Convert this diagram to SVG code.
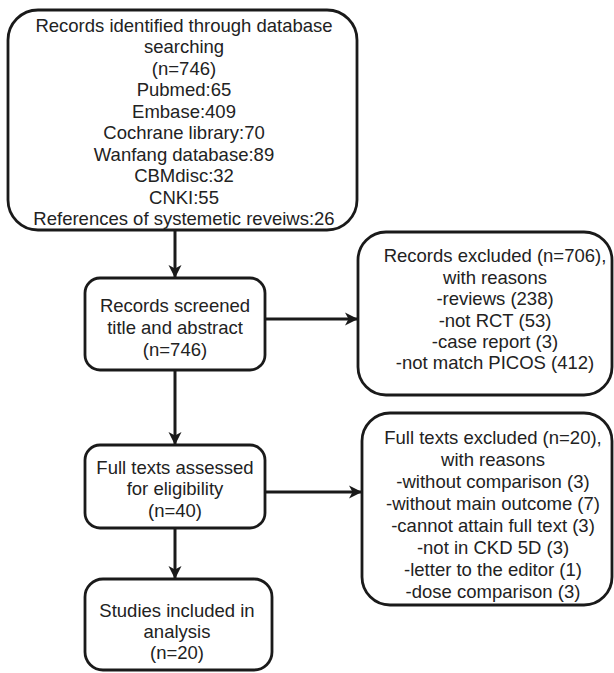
<svg xmlns="http://www.w3.org/2000/svg" width="614" height="673" viewBox="0 0 614 673">
<style>
.box{fill:#fff;stroke:#1a1a1a;stroke-width:2.8}
.t{font-family:"Liberation Sans",Arial,sans-serif;font-size:18.5px;fill:#222;text-anchor:middle;dominant-baseline:central}
.c{fill:none;stroke:#1a1a1a;stroke-width:3}
</style>
<defs>
<marker id="ah" markerUnits="userSpaceOnUse" markerWidth="16" markerHeight="16" viewBox="0 0 16 16" refX="14" refY="8" orient="auto">
<path d="M1,1.5 L14,8 L1,14.5 L4.5,8 Z" fill="#1a1a1a"/>
</marker>
</defs>
<rect width="614" height="673" fill="#fff"/>
<g id="connectors">
<line class="c" x1="175" y1="230" x2="175" y2="278" marker-end="url(#ah)"/>
<line class="c" x1="175" y1="370" x2="175" y2="445" marker-end="url(#ah)"/>
<line class="c" x1="175" y1="528" x2="175" y2="579" marker-end="url(#ah)"/>
<line class="c" x1="265" y1="319" x2="358" y2="319" marker-end="url(#ah)"/>
<line class="c" x1="265" y1="492" x2="362" y2="492" marker-end="url(#ah)"/>
</g>
<g id="identified">
<rect class="box" x="8" y="10" width="349" height="220" rx="30"/>
<text class="t" x="184" y="25">Records identified through database</text>
<text class="t" x="184" y="46.5">searching</text>
<text class="t" x="184" y="68">(n=746)</text>
<text class="t" x="184" y="89.5">Pubmed:65</text>
<text class="t" x="184" y="111">Embase:409</text>
<text class="t" x="184" y="132.5">Cochrane library:70</text>
<text class="t" x="184" y="154">Wanfang database:89</text>
<text class="t" x="184" y="175.5">CBMdisc:32</text>
<text class="t" x="184" y="197">CNKI:55</text>
<text class="t" x="184" y="218">References of systemetic reveiws:26</text>
</g>
<g id="screened">
<rect class="box" x="85" y="278" width="180" height="92" rx="15"/>
<text class="t" x="175" y="305">Records screened</text>
<text class="t" x="175" y="327">title and abstract</text>
<text class="t" x="175" y="349">(n=746)</text>
</g>
<g id="excluded1">
<rect class="box" x="358" y="232" width="254" height="163" rx="28"/>
<text class="t" x="495" y="255">Records excluded (n=706),</text>
<text class="t" x="495" y="277">with reasons</text>
<text class="t" x="495" y="298">-reviews (238)</text>
<text class="t" x="495" y="320">-not RCT (53)</text>
<text class="t" x="495" y="341">-case report (3)</text>
<text class="t" x="495" y="362">-not match PICOS (412)</text>
</g>
<g id="fulltexts">
<rect class="box" x="85" y="445" width="180" height="83" rx="15"/>
<text class="t" x="175" y="467">Full texts assessed</text>
<text class="t" x="175" y="488">for eligibility</text>
<text class="t" x="175" y="510">(n=40)</text>
</g>
<g id="excluded2">
<rect class="box" x="362" y="413" width="250" height="192" rx="28"/>
<text class="t" x="493" y="437">Full texts excluded (n=20),</text>
<text class="t" x="493" y="459">with reasons</text>
<text class="t" x="493" y="481">-without comparison (3)</text>
<text class="t" x="493" y="503">-without main outcome (7)</text>
<text class="t" x="493" y="525">-cannot attain full text (3)</text>
<text class="t" x="493" y="547">-not in CKD 5D (3)</text>
<text class="t" x="493" y="569">-letter to the editor (1)</text>
<text class="t" x="493" y="591">-dose comparison (3)</text>
</g>
<g id="included">
<rect class="box" x="85" y="579" width="187" height="91" rx="18"/>
<text class="t" x="177" y="610">Studies included in</text>
<text class="t" x="177" y="631">analysis</text>
<text class="t" x="177" y="652">(n=20)</text>
</g>
</svg>
